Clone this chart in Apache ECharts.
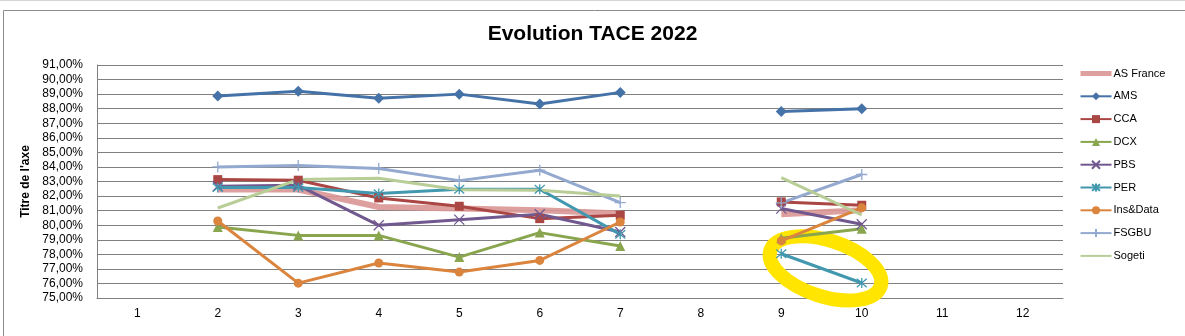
<!DOCTYPE html>
<html>
<head>
<meta charset="utf-8">
<script src="https://cdn.jsdelivr.net/npm/echarts@6/dist/echarts.min.js"></script>
<style>
html,body{margin:0;padding:0;background:#fff;}
#c{width:1185px;height:336px;}
</style>
</head>
<body>
<div id="c"></div>
<script>
var categories = ['1','2','3','4','5','6','7','8','9','10','11','12'];
var asFrance = [null,82.45,82.45,81.25,81.14,81.02,80.8,null,80.75,81.03,null,null];
var ams      = [null,88.87,89.19,88.71,89.0,88.32,89.12,null,87.81,88.0,null,null];
var cca      = [null,83.13,83.09,81.87,81.3,80.45,80.68,null,81.6,81.37,null,null];
var dcx      = [null,79.88,79.3,79.3,77.81,79.49,78.57,null,79.1,79.75,null,null];
var pbs      = [null,82.67,82.74,79.99,80.38,80.75,79.53,null,81.14,80.06,null,null];
var per      = [null,82.58,82.58,82.17,82.47,82.47,79.37,null,78.04,76.03,null,null];
var insData  = [null,80.29,76.02,77.4,76.78,77.58,80.22,null,78.92,81.19,null,null];
var fsgbu    = [null,84.0,84.1,83.89,83.06,83.78,81.55,null,81.53,83.48,null,null];
var sogeti   = [null,81.18,83.13,83.22,82.44,82.4,82.0,null,83.27,80.7,null,null];
var seriesNames = ['AS France','AMS','CCA','DCX','PBS','PER','Ins&Data','FSGBU','Sogeti'];

var FONT = '"Liberation Sans", Arial, sans-serif';
var X_PATH = 'path://M0,0L10,10M10,0L0,10';
var AST_PATH = 'path://M0,0L10,10M10,0L0,10M5,-1L5,11';
var PLUS_PATH = 'path://M5,0L5,10M0,5L10,5';

function mk(name, data, color, symbol, size, width, stroke) {
  return {
    name: name, type: 'line', data: data,
    connectNulls: false,
    symbol: symbol || 'none',
    showSymbol: !!symbol,
    symbolSize: size || 8,
    lineStyle: { color: color, width: width || 3 },
    itemStyle: { color: stroke ? 'rgba(0,0,0,0)' : color, borderColor: color, borderWidth: stroke ? 1.3 : 0 },
    emphasis: { disabled: true },
    animation: false
  };
}

var legendData = seriesNames.map(function (n) {
  if (n === 'AS France') {
    return { name: n, itemStyle: { opacity: 0 }, lineStyle: { width: 5 } };
  }
  if (n === 'Sogeti') {
    return { name: n, itemStyle: { opacity: 0 } };
  }
  return { name: n };
});

var chart = echarts.init(document.getElementById('c'), null, { renderer: 'canvas' });
var option = {
  backgroundColor: '#ffffff',
  animation: false,
  title: {
    text: 'Evolution TACE 2022',
    left: 'center', top: 19,
    textStyle: { fontFamily: FONT, fontSize: 21, fontWeight: 'bold', color: '#000' }
  },
  legend: {
    orient: 'vertical',
    left: 1073, top: 63,
    itemWidth: 31, itemHeight: 10, itemGap: 11.8,
    textStyle: { fontFamily: FONT, fontSize: 11, color: '#000', padding: [0,0,0,-3] },
    data: legendData
  },
  grid: { left: 97, right: 122, top: 65, bottom: 38, containLabel: false },
  xAxis: {
    type: 'category', data: categories, boundaryGap: true,
    axisLine: { lineStyle: { color: '#808080', width: 1 } },
    axisTick: { show: false },
    axisLabel: { fontFamily: FONT, fontSize: 12, color: '#000', margin: 10 }
  },
  yAxis: {
    type: 'value', min: 75, max: 91, interval: 1,
    name: "Titre de l'axe", nameLocation: 'middle', nameGap: 62, nameRotate: 90,
    nameTextStyle: { fontFamily: FONT, fontSize: 12, fontWeight: 'bold', color: '#000' },
    axisLine: { show: true, lineStyle: { color: '#808080', width: 1 } },
    axisTick: { show: false },
    splitLine: { lineStyle: { color: '#808080', width: 1 } },
    axisLabel: {
      fontFamily: FONT, fontSize: 12, color: '#000', margin: 14,
      formatter: function (v) { return v.toFixed(2).replace('.', ',') + '%'; }
    }
  },
  series: [
    mk('AS France', asFrance, '#D99694', null, 0, 6),
    mk('AMS', ams, '#4572A7', 'diamond', 11, 3),
    mk('CCA', cca, '#AA4643', 'rect', 9, 3),
    mk('DCX', dcx, '#89A54E', 'triangle', 10, 3),
    mk('PBS', pbs, '#71588F', X_PATH, 10, 3, true),
    mk('PER', per, '#4198AF', AST_PATH, 10, 3, true),
    mk('Ins&Data', insData, '#DB843D', 'circle', 9, 3),
    mk('FSGBU', fsgbu, '#93A9CF', PLUS_PATH, 11, 3, true),
    mk('Sogeti', sogeti, '#B9CD96', null, 0, 3)
  ]
};
option.series[0].lineStyle.opacity = 0.9;
chart.setOption(option);

// annotation: yellow hand-drawn ellipse around PER points 9 and 10, positioned from the data
var p9 = chart.convertToPixel({ gridIndex: 0 }, ['9', per[8]]);
var p10 = chart.convertToPixel({ gridIndex: 0 }, ['10', per[9]]);
var cx = (p9[0] + p10[0]) / 2 + 4;
var cy = (p9[1] + p10[1]) / 2;
var ang = Math.atan2(p10[1] - p9[1], p10[0] - p9[0]);
chart.setOption({
  graphic: [
    {
      type: 'rect', left: 1, top: 8, z: -10, silent: true,
      shape: { width: 1182, height: 327 },
      style: { fill: 'none', stroke: '#8c8c8c', lineWidth: 1 }
    },
    {
      type: 'rect', left: 0, top: 0, z: -10, silent: true,
      shape: { width: 1185, height: 1 },
      style: { fill: '#d4d4d4' }
    },
    {
      type: 'ellipse', x: cx, y: cy, rotation: -ang * 0.9, z: 1, silent: true,
      shape: { cx: 0, cy: 0, rx: 58, ry: 28 },
      style: { fill: 'none', stroke: '#FFE500', lineWidth: 14 }
    }
  ]
});
</script>
</body>
</html>
